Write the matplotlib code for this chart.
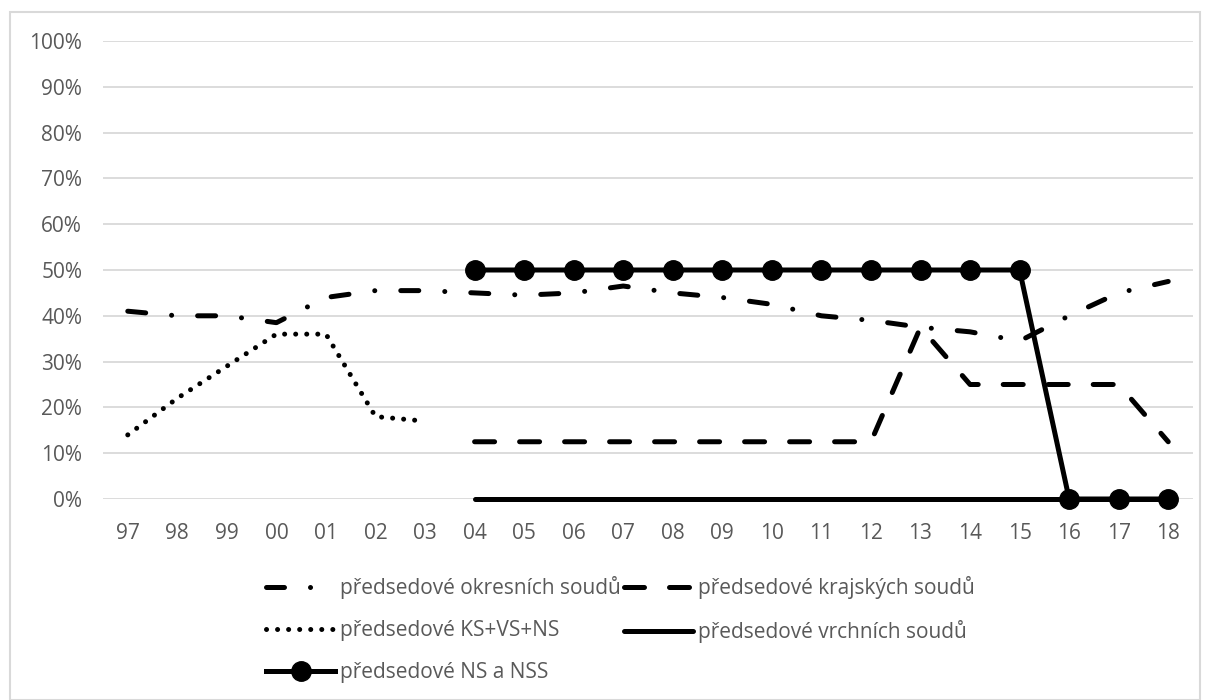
import matplotlib
matplotlib.use("Agg")
import matplotlib.pyplot as plt
import numpy as np
from matplotlib.patches import Rectangle
from matplotlib.ticker import FuncFormatter

nan = np.nan
years = ["97", "98", "99", "00", "01", "02", "03", "04", "05", "06", "07",
         "08", "09", "10", "11", "12", "13", "14", "15", "16", "17", "18"]

# shares in %
okresni = [41, 40, 40, 38.5, 44, 45.5, 45.5, 45, 44.5, 45, 46.5,
           45, 44, 42.5, 40, 39, 37.5, 36.5, 34.5, 40, 45, 47.5]
krajske = [nan] * 7 + [12.5] * 9 + [37.5] + [25] * 4 + [12.5]
ks_vs_ns = [14, 22, 29, 36, 36, 18, 17] + [nan] * 15
vrchni = [nan] * 7 + [0] * 15
ns_nss = [nan] * 7 + [50] * 12 + [0] * 3

labels = ["předsedové okresních soudů", "předsedové krajských soudů",
          "předsedové KS+VS+NS", "předsedové vrchních soudů",
          "předsedové NS a NSS"]

plt.rcParams["font.family"] = ["Open Sans", "DejaVu Sans"]
TXT = "#595959"
GRID = "#d9d9d9"
LW = 3.6
FS = 15

W, H = 1210, 700
fig = plt.figure(figsize=(W / 100, H / 100), dpi=100)
fig.patches.append(Rectangle((10 / W, 0), 1190 / W, (H - 12) / H, transform=fig.transFigure,
                             fill=False, edgecolor=GRID, linewidth=1.5))
ax = fig.add_axes([103 / W, 201 / H, 1090 / W, 458 / H])

x = np.arange(len(years))
l1, = ax.plot(x, okresni, color="black", lw=LW, dash_capstyle="round",
              dashes=(3.6, 5.2, 0.01, 5.2))
l2, = ax.plot(x, krajske, color="black", lw=LW, dash_capstyle="round",
              dashes=(4, 5))
l3, = ax.plot(x, ks_vs_ns, color="black", lw=LW, dash_capstyle="round",
              dashes=(0.01, 2.2))
l4, = ax.plot(x, vrchni, color="black", lw=LW, solid_capstyle="round")
l5, = ax.plot(x, ns_nss, color="black", lw=LW, marker="o", markersize=14)
for ln in (l1, l2, l3, l4, l5):
    ln.set_clip_on(False)

ax.set_xlim(-0.5, len(years) - 0.5)
ax.set_ylim(0, 100)
ax.set_yticks(np.arange(0, 101, 10))
ax.yaxis.set_major_formatter(FuncFormatter(lambda v, p: f"{v:.0f}%"))
ax.set_xticks(x)
ax.set_xticklabels(years)
ax.tick_params(length=0, labelsize=FS, colors=TXT)
ax.tick_params(axis="x", pad=17)
ax.tick_params(axis="y", pad=15)
ax.grid(axis="y", color=GRID, lw=1.3)
ax.set_axisbelow(True)
for s in ax.spines.values():
    s.set_visible(False)

handles = [l1, l3, l5, l2, l4]
order = [labels[0], labels[2], labels[4], labels[1], labels[3]]
fig.legend(handles, order, ncol=2, loc="upper left", bbox_to_anchor=(258 / W, 1 - 568 / H),
           frameon=False, fontsize=FS, labelcolor=TXT, handlelength=3.3,
           handletextpad=0.25, columnspacing=0.15, labelspacing=1.0, borderaxespad=0)

fig.savefig("out.png", dpi=100)
